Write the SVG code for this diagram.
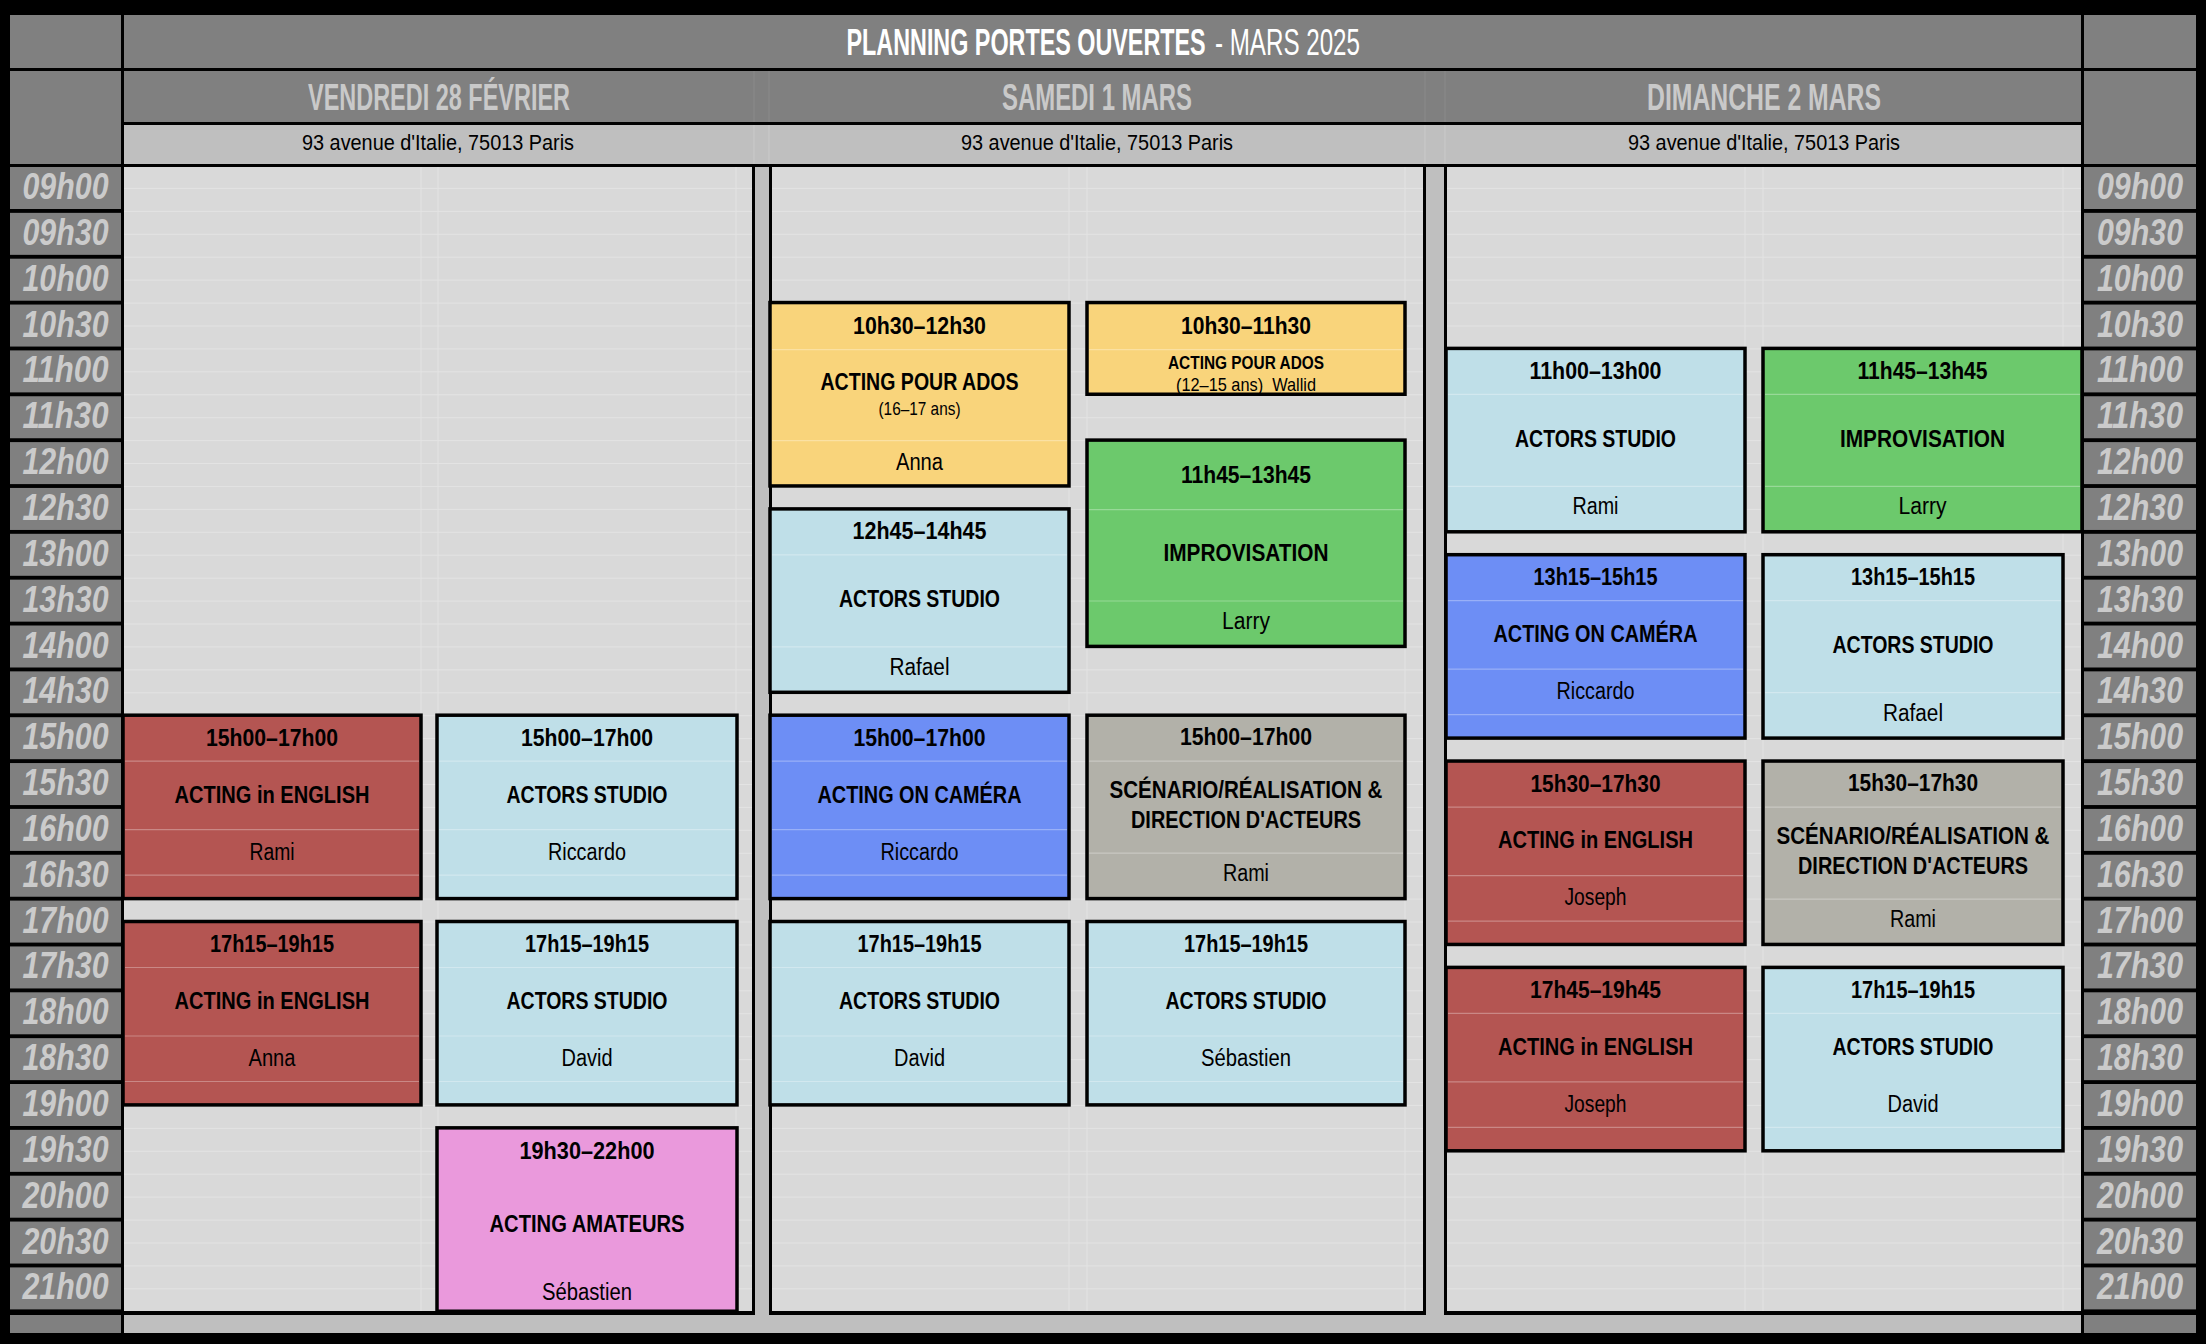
<svg xmlns="http://www.w3.org/2000/svg" width="2206" height="1344" viewBox="0 0 2206 1344">
<defs>
<pattern id="qrows" patternUnits="userSpaceOnUse" x="0" y="165" width="2206" height="22.925">
<rect x="0" y="0" width="2206" height="1" fill="#e3e3e3"/>
</pattern>
</defs>
<style>
text{font-family:"Liberation Sans",Arial,sans-serif}
.tl{font-weight:bold;font-style:italic;font-size:36px;fill:#cbcbcb;text-anchor:middle}
.ttl{font-size:37px;fill:#ffffff}
.hd{font-weight:bold;font-size:37px;fill:#c9c9c9;text-anchor:middle}
.adr{font-size:22.5px;fill:#000;text-anchor:middle}
.tm{font-weight:bold;font-size:24px;fill:#000;text-anchor:middle}
.ti{font-weight:bold;font-size:24.5px;fill:#000;text-anchor:middle}
.te{font-size:23px;fill:#000;text-anchor:middle}
.sb{font-weight:bold;font-size:18.5px;fill:#000;text-anchor:middle}
.sr{font-size:19px;fill:#000;text-anchor:middle}
.box{stroke:#000;stroke-width:3.5}
.il{stroke:#ffffff;stroke-opacity:0.3;stroke-width:1.2}
.red{fill:#b45552}
.lb{fill:#bfdfe8}
.yel{fill:#f9d47b}
.grn{fill:#6cc96c}
.cam{fill:#6d8ef5}
.gry{fill:#b2b1a9}
.pnk{fill:#ea99dc}
.hdr{fill:#808080}
.cell{fill:#808080}
.lt{fill:#bfbfbf}
.cnt{fill:#d9d9d9}
</style>

<rect x="0" y="0" width="2206" height="1344" fill="#000"/>

<g id="header">
<rect class="hdr" x="124" y="15" width="1957" height="53"/>
<rect class="hdr" x="124" y="71" width="1957" height="51"/>
<rect class="lt" x="124" y="125" width="1957" height="39"/>
<path d="M754 71V122M769 71V122M1425 71V122M1445 71V122" stroke="#8a8a8a" stroke-width="1"/>
<path d="M754 125V164M769 125V164M1425 125V164M1445 125V164" stroke="#cacaca" stroke-width="1"/>
<text class="ttl" transform="translate(846.5 55) scale(0.631 1)" x="0" y="0" font-weight="bold">PLANNING PORTES OUVERTES</text>
<text class="ttl" transform="translate(1215 55) scale(0.653 1)" x="0" y="0">- MARS 2025</text>
</g>

<g id="day-vendredi">
<text class="hd" x="439" y="109.5" textLength="262" lengthAdjust="spacingAndGlyphs">VENDREDI 28 FÉVRIER</text>
<text class="adr" x="438" y="150" textLength="272" lengthAdjust="spacingAndGlyphs">93 avenue d'Italie, 75013 Paris</text>
</g>
<g id="day-samedi">
<text class="hd" x="1097" y="109.5" textLength="190" lengthAdjust="spacingAndGlyphs">SAMEDI 1 MARS</text>
<text class="adr" x="1097" y="150" textLength="272" lengthAdjust="spacingAndGlyphs">93 avenue d'Italie, 75013 Paris</text>
</g>
<g id="day-dimanche">
<text class="hd" x="1764" y="109.5" textLength="234" lengthAdjust="spacingAndGlyphs">DIMANCHE 2 MARS</text>
<text class="adr" x="1764" y="150" textLength="272" lengthAdjust="spacingAndGlyphs">93 avenue d'Italie, 75013 Paris</text>
</g>

<g id="grid">
<rect class="cnt" x="124" y="167" width="628" height="1144"/>
<rect class="cnt" x="772" y="167" width="651" height="1144"/>
<rect class="cnt" x="1447" y="167" width="634" height="1144"/>
<rect fill="url(#qrows)" x="124" y="167" width="628" height="1144"/>
<rect fill="url(#qrows)" x="772" y="167" width="651" height="1144"/>
<rect fill="url(#qrows)" x="1447" y="167" width="634" height="1144"/>
<path d="M421 167V1311M438 167V1311M736 167V1311M1069 167V1311M1087 167V1311M1405 167V1311M1745 167V1311M1763 167V1311M2063 167V1311" stroke="#e3e3e3" stroke-width="1"/>
<rect class="lt" x="755" y="167" width="14" height="1166"/>
<rect class="lt" x="1426" y="167" width="18" height="1166"/>
<rect class="lt" x="124" y="1315" width="1957" height="18"/>
</g>

<g id="time-left">
<rect class="cell" x="10" y="15" width="111" height="53"/>
<rect class="cell" x="10" y="71" width="111" height="93"/>
<rect class="cell" x="10" y="167" width="111" height="42"/>
<rect class="cell" x="10" y="212.85" width="111" height="42"/>
<rect class="cell" x="10" y="258.7" width="111" height="42"/>
<rect class="cell" x="10" y="304.55" width="111" height="42"/>
<rect class="cell" x="10" y="350.4" width="111" height="42"/>
<rect class="cell" x="10" y="396.25" width="111" height="42"/>
<rect class="cell" x="10" y="442.1" width="111" height="42"/>
<rect class="cell" x="10" y="487.95" width="111" height="42"/>
<rect class="cell" x="10" y="533.8" width="111" height="42"/>
<rect class="cell" x="10" y="579.65" width="111" height="42"/>
<rect class="cell" x="10" y="625.5" width="111" height="42"/>
<rect class="cell" x="10" y="671.35" width="111" height="42"/>
<rect class="cell" x="10" y="717.2" width="111" height="42"/>
<rect class="cell" x="10" y="763.05" width="111" height="42"/>
<rect class="cell" x="10" y="808.9" width="111" height="42"/>
<rect class="cell" x="10" y="854.75" width="111" height="42"/>
<rect class="cell" x="10" y="900.6" width="111" height="42"/>
<rect class="cell" x="10" y="946.45" width="111" height="42"/>
<rect class="cell" x="10" y="992.3" width="111" height="42"/>
<rect class="cell" x="10" y="1038.15" width="111" height="42"/>
<rect class="cell" x="10" y="1084" width="111" height="42"/>
<rect class="cell" x="10" y="1129.85" width="111" height="42"/>
<rect class="cell" x="10" y="1175.7" width="111" height="42"/>
<rect class="cell" x="10" y="1221.55" width="111" height="42"/>
<rect class="cell" x="10" y="1267.4" width="111" height="42"/>
<rect class="cell" x="10" y="1315" width="111" height="18"/>
<text class="tl" x="65.5" y="199" textLength="86" lengthAdjust="spacingAndGlyphs">09h00</text>
<text class="tl" x="65.5" y="244.85" textLength="86" lengthAdjust="spacingAndGlyphs">09h30</text>
<text class="tl" x="65.5" y="290.7" textLength="86" lengthAdjust="spacingAndGlyphs">10h00</text>
<text class="tl" x="65.5" y="336.55" textLength="86" lengthAdjust="spacingAndGlyphs">10h30</text>
<text class="tl" x="65.5" y="382.4" textLength="86" lengthAdjust="spacingAndGlyphs">11h00</text>
<text class="tl" x="65.5" y="428.25" textLength="86" lengthAdjust="spacingAndGlyphs">11h30</text>
<text class="tl" x="65.5" y="474.1" textLength="86" lengthAdjust="spacingAndGlyphs">12h00</text>
<text class="tl" x="65.5" y="519.95" textLength="86" lengthAdjust="spacingAndGlyphs">12h30</text>
<text class="tl" x="65.5" y="565.8" textLength="86" lengthAdjust="spacingAndGlyphs">13h00</text>
<text class="tl" x="65.5" y="611.65" textLength="86" lengthAdjust="spacingAndGlyphs">13h30</text>
<text class="tl" x="65.5" y="657.5" textLength="86" lengthAdjust="spacingAndGlyphs">14h00</text>
<text class="tl" x="65.5" y="703.35" textLength="86" lengthAdjust="spacingAndGlyphs">14h30</text>
<text class="tl" x="65.5" y="749.2" textLength="86" lengthAdjust="spacingAndGlyphs">15h00</text>
<text class="tl" x="65.5" y="795.05" textLength="86" lengthAdjust="spacingAndGlyphs">15h30</text>
<text class="tl" x="65.5" y="840.9" textLength="86" lengthAdjust="spacingAndGlyphs">16h00</text>
<text class="tl" x="65.5" y="886.75" textLength="86" lengthAdjust="spacingAndGlyphs">16h30</text>
<text class="tl" x="65.5" y="932.6" textLength="86" lengthAdjust="spacingAndGlyphs">17h00</text>
<text class="tl" x="65.5" y="978.45" textLength="86" lengthAdjust="spacingAndGlyphs">17h30</text>
<text class="tl" x="65.5" y="1024.3" textLength="86" lengthAdjust="spacingAndGlyphs">18h00</text>
<text class="tl" x="65.5" y="1070.15" textLength="86" lengthAdjust="spacingAndGlyphs">18h30</text>
<text class="tl" x="65.5" y="1116" textLength="86" lengthAdjust="spacingAndGlyphs">19h00</text>
<text class="tl" x="65.5" y="1161.85" textLength="86" lengthAdjust="spacingAndGlyphs">19h30</text>
<text class="tl" x="65.5" y="1207.7" textLength="86" lengthAdjust="spacingAndGlyphs">20h00</text>
<text class="tl" x="65.5" y="1253.55" textLength="86" lengthAdjust="spacingAndGlyphs">20h30</text>
<text class="tl" x="65.5" y="1299.4" textLength="86" lengthAdjust="spacingAndGlyphs">21h00</text>
</g>

<g id="time-right">
<rect class="cell" x="2084" y="15" width="112" height="53"/>
<rect class="cell" x="2084" y="71" width="112" height="93"/>
<rect class="cell" x="2084" y="167" width="112" height="42"/>
<rect class="cell" x="2084" y="212.85" width="112" height="42"/>
<rect class="cell" x="2084" y="258.7" width="112" height="42"/>
<rect class="cell" x="2084" y="304.55" width="112" height="42"/>
<rect class="cell" x="2084" y="350.4" width="112" height="42"/>
<rect class="cell" x="2084" y="396.25" width="112" height="42"/>
<rect class="cell" x="2084" y="442.1" width="112" height="42"/>
<rect class="cell" x="2084" y="487.95" width="112" height="42"/>
<rect class="cell" x="2084" y="533.8" width="112" height="42"/>
<rect class="cell" x="2084" y="579.65" width="112" height="42"/>
<rect class="cell" x="2084" y="625.5" width="112" height="42"/>
<rect class="cell" x="2084" y="671.35" width="112" height="42"/>
<rect class="cell" x="2084" y="717.2" width="112" height="42"/>
<rect class="cell" x="2084" y="763.05" width="112" height="42"/>
<rect class="cell" x="2084" y="808.9" width="112" height="42"/>
<rect class="cell" x="2084" y="854.75" width="112" height="42"/>
<rect class="cell" x="2084" y="900.6" width="112" height="42"/>
<rect class="cell" x="2084" y="946.45" width="112" height="42"/>
<rect class="cell" x="2084" y="992.3" width="112" height="42"/>
<rect class="cell" x="2084" y="1038.15" width="112" height="42"/>
<rect class="cell" x="2084" y="1084" width="112" height="42"/>
<rect class="cell" x="2084" y="1129.85" width="112" height="42"/>
<rect class="cell" x="2084" y="1175.7" width="112" height="42"/>
<rect class="cell" x="2084" y="1221.55" width="112" height="42"/>
<rect class="cell" x="2084" y="1267.4" width="112" height="42"/>
<rect class="cell" x="2084" y="1315" width="112" height="18"/>
<text class="tl" x="2140" y="199" textLength="86" lengthAdjust="spacingAndGlyphs">09h00</text>
<text class="tl" x="2140" y="244.85" textLength="86" lengthAdjust="spacingAndGlyphs">09h30</text>
<text class="tl" x="2140" y="290.7" textLength="86" lengthAdjust="spacingAndGlyphs">10h00</text>
<text class="tl" x="2140" y="336.55" textLength="86" lengthAdjust="spacingAndGlyphs">10h30</text>
<text class="tl" x="2140" y="382.4" textLength="86" lengthAdjust="spacingAndGlyphs">11h00</text>
<text class="tl" x="2140" y="428.25" textLength="86" lengthAdjust="spacingAndGlyphs">11h30</text>
<text class="tl" x="2140" y="474.1" textLength="86" lengthAdjust="spacingAndGlyphs">12h00</text>
<text class="tl" x="2140" y="519.95" textLength="86" lengthAdjust="spacingAndGlyphs">12h30</text>
<text class="tl" x="2140" y="565.8" textLength="86" lengthAdjust="spacingAndGlyphs">13h00</text>
<text class="tl" x="2140" y="611.65" textLength="86" lengthAdjust="spacingAndGlyphs">13h30</text>
<text class="tl" x="2140" y="657.5" textLength="86" lengthAdjust="spacingAndGlyphs">14h00</text>
<text class="tl" x="2140" y="703.35" textLength="86" lengthAdjust="spacingAndGlyphs">14h30</text>
<text class="tl" x="2140" y="749.2" textLength="86" lengthAdjust="spacingAndGlyphs">15h00</text>
<text class="tl" x="2140" y="795.05" textLength="86" lengthAdjust="spacingAndGlyphs">15h30</text>
<text class="tl" x="2140" y="840.9" textLength="86" lengthAdjust="spacingAndGlyphs">16h00</text>
<text class="tl" x="2140" y="886.75" textLength="86" lengthAdjust="spacingAndGlyphs">16h30</text>
<text class="tl" x="2140" y="932.6" textLength="86" lengthAdjust="spacingAndGlyphs">17h00</text>
<text class="tl" x="2140" y="978.45" textLength="86" lengthAdjust="spacingAndGlyphs">17h30</text>
<text class="tl" x="2140" y="1024.3" textLength="86" lengthAdjust="spacingAndGlyphs">18h00</text>
<text class="tl" x="2140" y="1070.15" textLength="86" lengthAdjust="spacingAndGlyphs">18h30</text>
<text class="tl" x="2140" y="1116" textLength="86" lengthAdjust="spacingAndGlyphs">19h00</text>
<text class="tl" x="2140" y="1161.85" textLength="86" lengthAdjust="spacingAndGlyphs">19h30</text>
<text class="tl" x="2140" y="1207.7" textLength="86" lengthAdjust="spacingAndGlyphs">20h00</text>
<text class="tl" x="2140" y="1253.55" textLength="86" lengthAdjust="spacingAndGlyphs">20h30</text>
<text class="tl" x="2140" y="1299.4" textLength="86" lengthAdjust="spacingAndGlyphs">21h00</text>
</g>

<!-- VENDREDI -->
<g id="ev-ven-english-1500">
<rect class="box red" x="123" y="715.2" width="298" height="183.4"/>
<path class="il" d="M125 761.2H419M125 829.7H419M125 875.2H419"/>
<text class="tm" x="272" y="745.6" textLength="132" lengthAdjust="spacingAndGlyphs">15h00–17h00</text>
<text class="ti" x="272" y="802.5" textLength="195" lengthAdjust="spacingAndGlyphs">ACTING in ENGLISH</text>
<text class="te" x="272" y="859.5" textLength="45" lengthAdjust="spacingAndGlyphs">Rami</text>
</g>
<g id="ev-ven-actors-1500">
<rect class="box lb" x="437" y="715.2" width="300" height="183.4"/>
<path class="il" d="M439 761.2H735M439 829.7H735M439 875.2H735"/>
<text class="tm" x="587" y="745.6" textLength="132" lengthAdjust="spacingAndGlyphs">15h00–17h00</text>
<text class="ti" x="587" y="802.5" textLength="161" lengthAdjust="spacingAndGlyphs">ACTORS STUDIO</text>
<text class="te" x="587" y="859.5" textLength="78" lengthAdjust="spacingAndGlyphs">Riccardo</text>
</g>
<g id="ev-ven-english-1715">
<rect class="box red" x="123" y="921.5" width="298" height="183.4"/>
<path class="il" d="M125 967.5H419M125 1036H419M125 1081.5H419"/>
<text class="tm" x="272" y="951.9" textLength="124" lengthAdjust="spacingAndGlyphs">17h15–19h15</text>
<text class="ti" x="272" y="1008.8" textLength="195" lengthAdjust="spacingAndGlyphs">ACTING in ENGLISH</text>
<text class="te" x="272" y="1065.8" textLength="47" lengthAdjust="spacingAndGlyphs">Anna</text>
</g>
<g id="ev-ven-actors-1715">
<rect class="box lb" x="437" y="921.5" width="300" height="183.4"/>
<path class="il" d="M439 967.5H735M439 1036H735M439 1081.5H735"/>
<text class="tm" x="587" y="951.9" textLength="124" lengthAdjust="spacingAndGlyphs">17h15–19h15</text>
<text class="ti" x="587" y="1008.8" textLength="161" lengthAdjust="spacingAndGlyphs">ACTORS STUDIO</text>
<text class="te" x="587" y="1065.8" textLength="51" lengthAdjust="spacingAndGlyphs">David</text>
</g>
<g id="ev-ven-amateurs-1930">
<rect class="box pnk" x="437" y="1127.85" width="300" height="183.4"/>
<text class="tm" x="587" y="1159.4" textLength="135" lengthAdjust="spacingAndGlyphs">19h30–22h00</text>
<text class="ti" x="587" y="1231.9" textLength="195" lengthAdjust="spacingAndGlyphs">ACTING AMATEURS</text>
<text class="te" x="587" y="1299.9" textLength="90" lengthAdjust="spacingAndGlyphs">Sébastien</text>
</g>

<!-- SAMEDI -->
<g id="ev-sam-ados-1030">
<rect class="box yel" x="770" y="302.55" width="299" height="183.4"/>
<path class="il" d="M772 349.6H1067M772 440.6H1067"/>
<text class="tm" x="919.5" y="333.6" textLength="133" lengthAdjust="spacingAndGlyphs">10h30–12h30</text>
<text class="ti" x="919.5" y="390.2" textLength="198" lengthAdjust="spacingAndGlyphs">ACTING POUR ADOS</text>
<text class="sr" x="919.5" y="415.2" textLength="82" lengthAdjust="spacingAndGlyphs">(16–17 ans)</text>
<text class="te" x="919.5" y="469.6" textLength="47" lengthAdjust="spacingAndGlyphs">Anna</text>
</g>
<g id="ev-sam-ados-1030b">
<rect class="box yel" x="1087" y="302.55" width="318" height="91.7"/>
<path class="il" d="M1089 349.6H1403"/>
<text class="tm" x="1246" y="333.6" textLength="130" lengthAdjust="spacingAndGlyphs">10h30–11h30</text>
<text class="sb" x="1246" y="368.6" textLength="156" lengthAdjust="spacingAndGlyphs">ACTING POUR ADOS</text>
<text class="sr" x="1246" y="391.2" textLength="140" lengthAdjust="spacingAndGlyphs" xml:space="preserve">(12–15 ans)  Wallid</text>
</g>
<g id="ev-sam-actors-1245">
<rect class="box lb" x="770" y="508.9" width="299" height="183.4"/>
<path class="il" d="M772 554.9H1067M772 646.9H1067"/>
<text class="tm" x="919.5" y="539.4" textLength="134" lengthAdjust="spacingAndGlyphs">12h45–14h45</text>
<text class="ti" x="919.5" y="607.4" textLength="161" lengthAdjust="spacingAndGlyphs">ACTORS STUDIO</text>
<text class="te" x="919.5" y="674.9" textLength="60" lengthAdjust="spacingAndGlyphs">Rafael</text>
</g>
<g id="ev-sam-impro-1145">
<rect class="box grn" x="1087" y="440.1" width="318" height="206.3"/>
<path class="il" d="M1089 509.6H1403M1089 601H1403"/>
<text class="tm" x="1246" y="482.6" textLength="130" lengthAdjust="spacingAndGlyphs">11h45–13h45</text>
<text class="ti" x="1246" y="561.1" textLength="165" lengthAdjust="spacingAndGlyphs">IMPROVISATION</text>
<text class="te" x="1246" y="628.6" textLength="48" lengthAdjust="spacingAndGlyphs">Larry</text>
</g>
<g id="ev-sam-camera-1500">
<rect class="box cam" x="770" y="715.2" width="299" height="183.4"/>
<path class="il" d="M772 761.2H1067M772 829.7H1067M772 875.2H1067"/>
<text class="tm" x="919.5" y="745.6" textLength="132" lengthAdjust="spacingAndGlyphs">15h00–17h00</text>
<text class="ti" x="919.5" y="802.5" textLength="204" lengthAdjust="spacingAndGlyphs">ACTING ON CAMÉRA</text>
<text class="te" x="919.5" y="859.5" textLength="78" lengthAdjust="spacingAndGlyphs">Riccardo</text>
</g>
<g id="ev-sam-scenario-1500">
<rect class="box gry" x="1087" y="715.2" width="318" height="183.4"/>
<path class="il" d="M1089 761.2H1403M1089 853.2H1403"/>
<text class="tm" x="1246" y="745.2" textLength="132" lengthAdjust="spacingAndGlyphs">15h00–17h00</text>
<text class="ti" x="1246" y="798.2" textLength="273" lengthAdjust="spacingAndGlyphs">SCÉNARIO/RÉALISATION &amp;</text>
<text class="ti" x="1246" y="828.2" textLength="230" lengthAdjust="spacingAndGlyphs">DIRECTION D'ACTEURS</text>
<text class="te" x="1246" y="881.2" textLength="46" lengthAdjust="spacingAndGlyphs">Rami</text>
</g>
<g id="ev-sam-actors-1715a">
<rect class="box lb" x="770" y="921.5" width="299" height="183.4"/>
<path class="il" d="M772 967.5H1067M772 1036H1067M772 1081.5H1067"/>
<text class="tm" x="919.5" y="951.9" textLength="124" lengthAdjust="spacingAndGlyphs">17h15–19h15</text>
<text class="ti" x="919.5" y="1008.8" textLength="161" lengthAdjust="spacingAndGlyphs">ACTORS STUDIO</text>
<text class="te" x="919.5" y="1065.8" textLength="51" lengthAdjust="spacingAndGlyphs">David</text>
</g>
<g id="ev-sam-actors-1715b">
<rect class="box lb" x="1087" y="921.5" width="318" height="183.4"/>
<path class="il" d="M1089 967.5H1403M1089 1036H1403M1089 1081.5H1403"/>
<text class="tm" x="1246" y="951.9" textLength="124" lengthAdjust="spacingAndGlyphs">17h15–19h15</text>
<text class="ti" x="1246" y="1008.8" textLength="161" lengthAdjust="spacingAndGlyphs">ACTORS STUDIO</text>
<text class="te" x="1246" y="1065.8" textLength="90" lengthAdjust="spacingAndGlyphs">Sébastien</text>
</g>

<!-- DIMANCHE -->
<g id="ev-dim-actors-1100">
<rect class="box lb" x="1446" y="348.4" width="299" height="183.4"/>
<path class="il" d="M1448 394.4H1743M1448 486.4H1743"/>
<text class="tm" x="1595.5" y="378.9" textLength="132" lengthAdjust="spacingAndGlyphs">11h00–13h00</text>
<text class="ti" x="1595.5" y="446.9" textLength="161" lengthAdjust="spacingAndGlyphs">ACTORS STUDIO</text>
<text class="te" x="1595.5" y="514.4" textLength="46" lengthAdjust="spacingAndGlyphs">Rami</text>
</g>
<g id="ev-dim-impro-1145">
<rect class="box grn" x="1763" y="348.4" width="319" height="183.4"/>
<path class="il" d="M1765 394.4H2080M1765 486.4H2080"/>
<text class="tm" x="1922.5" y="378.9" textLength="130" lengthAdjust="spacingAndGlyphs">11h45–13h45</text>
<text class="ti" x="1922.5" y="446.9" textLength="165" lengthAdjust="spacingAndGlyphs">IMPROVISATION</text>
<text class="te" x="1922.5" y="514.4" textLength="48" lengthAdjust="spacingAndGlyphs">Larry</text>
</g>
<g id="ev-dim-camera-1315">
<rect class="box cam" x="1446" y="554.7" width="299" height="183.4"/>
<path class="il" d="M1448 600.7H1743M1448 669.2H1743M1448 714.7H1743"/>
<text class="tm" x="1595.5" y="585.1" textLength="124" lengthAdjust="spacingAndGlyphs">13h15–15h15</text>
<text class="ti" x="1595.5" y="642" textLength="204" lengthAdjust="spacingAndGlyphs">ACTING ON CAMÉRA</text>
<text class="te" x="1595.5" y="699" textLength="78" lengthAdjust="spacingAndGlyphs">Riccardo</text>
</g>
<g id="ev-dim-actors-1315">
<rect class="box lb" x="1763" y="554.7" width="300" height="183.4"/>
<path class="il" d="M1765 600.7H2061M1765 692.7H2061"/>
<text class="tm" x="1913" y="585.2" textLength="124" lengthAdjust="spacingAndGlyphs">13h15–15h15</text>
<text class="ti" x="1913" y="653.2" textLength="161" lengthAdjust="spacingAndGlyphs">ACTORS STUDIO</text>
<text class="te" x="1913" y="720.7" textLength="60" lengthAdjust="spacingAndGlyphs">Rafael</text>
</g>
<g id="ev-dim-english-1530">
<rect class="box red" x="1446" y="761.05" width="299" height="183.4"/>
<path class="il" d="M1448 807.1H1743M1448 875.6H1743M1448 921.1H1743"/>
<text class="tm" x="1595.5" y="791.5" textLength="130" lengthAdjust="spacingAndGlyphs">15h30–17h30</text>
<text class="ti" x="1595.5" y="848.4" textLength="195" lengthAdjust="spacingAndGlyphs">ACTING in ENGLISH</text>
<text class="te" x="1595.5" y="905.4" textLength="62" lengthAdjust="spacingAndGlyphs">Joseph</text>
</g>
<g id="ev-dim-scenario-1530">
<rect class="box gry" x="1763" y="761.05" width="300" height="183.4"/>
<path class="il" d="M1765 807.1H2061M1765 899.1H2061"/>
<text class="tm" x="1913" y="791.1" textLength="130" lengthAdjust="spacingAndGlyphs">15h30–17h30</text>
<text class="ti" x="1913" y="844.1" textLength="273" lengthAdjust="spacingAndGlyphs">SCÉNARIO/RÉALISATION &amp;</text>
<text class="ti" x="1913" y="874.1" textLength="230" lengthAdjust="spacingAndGlyphs">DIRECTION D'ACTEURS</text>
<text class="te" x="1913" y="927.1" textLength="46" lengthAdjust="spacingAndGlyphs">Rami</text>
</g>
<g id="ev-dim-english-1745">
<rect class="box red" x="1446" y="967.4" width="299" height="183.4"/>
<path class="il" d="M1448 1013.4H1743M1448 1081.9H1743M1448 1127.4H1743"/>
<text class="tm" x="1595.5" y="997.8" textLength="131" lengthAdjust="spacingAndGlyphs">17h45–19h45</text>
<text class="ti" x="1595.5" y="1054.7" textLength="195" lengthAdjust="spacingAndGlyphs">ACTING in ENGLISH</text>
<text class="te" x="1595.5" y="1111.7" textLength="62" lengthAdjust="spacingAndGlyphs">Joseph</text>
</g>
<g id="ev-dim-actors-1715">
<rect class="box lb" x="1763" y="967.4" width="300" height="183.4"/>
<path class="il" d="M1765 1013.4H2061M1765 1127.4H2061"/>
<text class="tm" x="1913" y="997.8" textLength="124" lengthAdjust="spacingAndGlyphs">17h15–19h15</text>
<text class="ti" x="1913" y="1054.7" textLength="161" lengthAdjust="spacingAndGlyphs">ACTORS STUDIO</text>
<text class="te" x="1913" y="1111.7" textLength="51" lengthAdjust="spacingAndGlyphs">David</text>
</g>
</svg>
